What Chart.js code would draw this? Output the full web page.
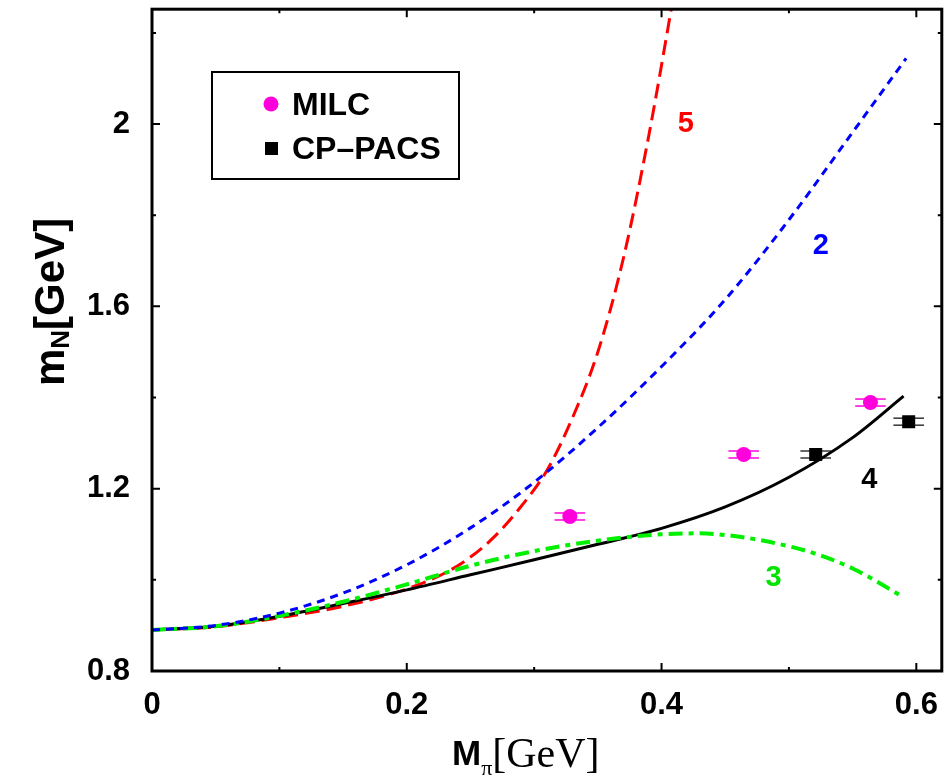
<!DOCTYPE html>
<html>
<head>
<meta charset="utf-8">
<script src="https://cdn.jsdelivr.net/npm/chart.js@4"></script>
<style>
	body { margin: 0; background: #fff; }
	#wrap { width: 951px; height: 776px; }
</style>
</head>
<body>
<div id="wrap"><canvas id="chart"></canvas></div>
<script>
/* global Chart */

// Curves
const xCurve2 = [0, 0.05, 0.1, 0.15, 0.2, 0.25, 0.3, 0.35, 0.4, 0.45, 0.5, 0.55, 0.592];
const yCurve2 = [0.890, 0.900, 0.927, 0.971, 1.033, 1.114, 1.214, 1.334, 1.468, 1.615, 1.790, 1.982, 2.144];

const xCurve3 = [0, 0.05, 0.1, 0.15, 0.2, 0.25, 0.3, 0.35, 0.4, 0.43, 0.46, 0.49, 0.52, 0.55, 0.59];
const yCurve3 = [0.890, 0.898, 0.921, 0.952, 0.990, 1.031, 1.063, 1.086, 1.100, 1.102, 1.095, 1.080, 1.058, 1.025, 0.962];

const xCurve4 = [0, 0.05, 0.1, 0.15, 0.2, 0.25, 0.3, 0.35, 0.4, 0.45, 0.5, 0.55, 0.59];
const yCurve4 = [0.890, 0.898, 0.920, 0.948, 0.978, 1.011, 1.044, 1.078, 1.113, 1.160, 1.225, 1.312, 1.403];

const xCurve5 = [0, 0.05, 0.1, 0.15, 0.2, 0.23, 0.25, 0.27, 0.29, 0.31, 0.33, 0.35, 0.37, 0.39, 0.41];
const yCurve5 = [0.890, 0.897, 0.917, 0.942, 0.980, 1.015, 1.050, 1.098, 1.162, 1.240, 1.355, 1.500, 1.705, 1.975, 2.290];

// Lattice points
const xMilc = [0.328, 0.4645, 0.564];
const yMilc = [1.139, 1.275, 1.389];
const errMilc = [0.012, 0.012, 0.012];

const xCpPacs = [0.521, 0.594];
const yCpPacs = [1.275, 1.347];
const errCpPacs = [0.012, 0.012];

// Axis ticks
const xTicks = [0, 0.1, 0.2, 0.3, 0.4, 0.5, 0.6];
const yTicks = [0.8, 1.0, 1.2, 1.4, 1.6, 1.8, 2.0, 2.2];

const toPoints = (xs, ys) => xs.map((x, i) => ({ x, y: ys[i] }));

const curve = (label, xs, ys, color, dash, width, order) => ({
	label,
	data: toPoints(xs, ys),
	showLine: true,
	borderColor: color,
	borderWidth: width,
	borderDash: dash,
	pointRadius: 0,
	cubicInterpolationMode: 'monotone',
	order
});

const sans = '"Liberation Sans", Arial, sans-serif';
const serif = '"Liberation Serif", "Times New Roman", serif';

// keep the plot box where the picture has it
const noPad = (s) => {
	s.paddingTop = 0;
	s.paddingBottom = 0;
	s.paddingLeft = 0;
	s.paddingRight = 0;
};

// Frame, inward ticks, error bars, legend, labels and titles
const decorations = {
	id: 'decorations',
	beforeDatasetsDraw(chart) {
		const { ctx, scales: { x, y } } = chart;
		const bars = [
			[xMilc, yMilc, errMilc, '#ff00dd'],
			[xCpPacs, yCpPacs, errCpPacs, '#333333']
		];
		ctx.save();
		ctx.lineWidth = 1.5;
		bars.forEach(([xs, ys, errs, color]) => {
			ctx.strokeStyle = color;
			xs.forEach((v, i) => {
				const x0 = x.getPixelForValue(v - errs[i]);
				const x1 = x.getPixelForValue(v + errs[i]);
				const py = y.getPixelForValue(ys[i]);
				[-3.5, 3.5].forEach((d) => {
					ctx.beginPath();
					ctx.moveTo(x0, py + d);
					ctx.lineTo(x1, py + d);
					ctx.stroke();
				});
			});
		});
		ctx.restore();
	},
	afterDraw(chart) {
		const { ctx, chartArea: a, scales: { x, y } } = chart;
		ctx.save();

		// frame
		ctx.strokeStyle = '#000';
		ctx.lineWidth = 3;
		ctx.strokeRect(a.left, a.top, a.right - a.left, a.bottom - a.top);

		// ticks on all four sides
		ctx.lineWidth = 2;
		ctx.beginPath();
		xTicks.forEach((v, i) => {
			const px = x.getPixelForValue(v);
			const len = i % 2 === 0 ? 8 : 4;
			ctx.moveTo(px, a.bottom);
			ctx.lineTo(px, a.bottom - len);
			ctx.moveTo(px, a.top);
			ctx.lineTo(px, a.top + len);
		});
		yTicks.forEach((v, i) => {
			const py = y.getPixelForValue(v);
			const len = i % 2 === 0 ? 8 : 4;
			ctx.moveTo(a.left, py);
			ctx.lineTo(a.left + len, py);
			ctx.moveTo(a.right, py);
			ctx.lineTo(a.right - len, py);
		});
		ctx.stroke();

		// curve labels
		ctx.font = 'bold 29px ' + sans;
		ctx.textAlign = 'center';
		ctx.textBaseline = 'middle';
		[['5', 0.419, 2.0, '#ff0000'], ['2', 0.525, 1.733, '#0000ff'], ['4', 0.563, 1.218, '#000000'], ['3', 0.488, 1.004, '#00e400']]
			.forEach(([t, vx, vy, c]) => {
				ctx.fillStyle = c;
				ctx.fillText(t, x.getPixelForValue(vx), y.getPixelForValue(vy));
			});

		// legend
		ctx.lineWidth = 2;
		ctx.strokeStyle = '#000';
		ctx.strokeRect(212, 72, 247, 107);
		ctx.fillStyle = '#ff00dd';
		ctx.beginPath();
		ctx.arc(271, 104, 7.5, 0, Math.PI * 2);
		ctx.fill();
		ctx.fillStyle = '#000';
		ctx.fillRect(265, 142, 13, 13);
		ctx.font = 'bold 32px ' + sans;
		ctx.textAlign = 'left';
		ctx.textBaseline = 'middle';
		ctx.fillText('MILC', 292, 106);
		ctx.fillText('CP\u2013PACS', 292, 150);

		// x title: M_pi[GeV]
		ctx.textBaseline = 'alphabetic';
		ctx.font = 'bold 35px ' + sans;
		ctx.fillText('M', 452, 765);
		let px = 452 + ctx.measureText('M').width;
		ctx.font = '22px ' + serif;
		ctx.fillText('\u03c0', px, 775);
		px += ctx.measureText('\u03c0').width;
		ctx.font = '42px ' + serif;
		ctx.fillText('[GeV]', px, 767);

		// y title: m_N[GeV]
		ctx.translate(64, 386);
		ctx.rotate(-Math.PI / 2);
		ctx.font = 'bold 42px ' + sans;
		ctx.fillText('m', 0, 0);
		const wm = ctx.measureText('m').width;
		ctx.font = 'bold 26px ' + sans;
		ctx.fillText('N', wm, 5);
		const wn = ctx.measureText('N').width;
		ctx.font = 'bold 42px ' + sans;
		ctx.fillText('[GeV]', wm + wn, 0);

		ctx.restore();
	}
};

const config = {
	type: 'scatter',
	data: {
		datasets: [
			{
				label: 'MILC',
				data: toPoints(xMilc, yMilc),
				pointStyle: 'circle',
				pointRadius: 7.5,
				backgroundColor: '#ff00dd',
				borderWidth: 0,
				order: 0
			},
			{
				label: 'CP-PACS',
				data: toPoints(xCpPacs, yCpPacs),
				pointStyle: 'rect',
				pointRadius: 9.2,
				backgroundColor: '#000',
				borderWidth: 0,
				order: 1
			},
			curve('2', xCurve2, yCurve2, '#0000ff', [8, 6], 3, 2),
			curve('3', xCurve3, yCurve3, '#00f000', [14, 6, 5, 6], 4, 3),
			curve('4', xCurve4, yCurve4, '#000000', [], 3, 4),
			curve('5', xCurve5, yCurve5, '#ff0000', [15, 7], 3, 5)
		]
	},
	options: {
		responsive: true,
		maintainAspectRatio: false,
		animation: false,
		layout: { padding: { top: 8, right: 5, left: 0, bottom: 0 } },
		plugins: {
			legend: { display: false },
			tooltip: { enabled: false }
		},
		scales: {
			x: {
				type: 'linear',
				min: 0,
				max: 0.62,
				grid: { display: false, drawTicks: false },
				border: { display: false },
				ticks: {
					stepSize: 0.2,
					includeBounds: false,
					maxRotation: 0,
					padding: 16,
					color: '#000',
					font: { family: sans, size: 31, weight: 'bold' },
					callback: (v) => String(Number(v.toFixed(1)))
				},
				afterFit: (s) => { s.height = 105; noPad(s); }
			},
			y: {
				type: 'linear',
				min: 0.8,
				max: 2.252,
				grid: { display: false, drawTicks: false },
				border: { display: false },
				ticks: {
					stepSize: 0.4,
					includeBounds: false,
					padding: 22,
					color: '#000',
					font: { family: sans, size: 31, weight: 'bold' },
					callback: (v) => String(Number(v.toFixed(1)))
				},
				afterFit: (s) => { s.width = 152; noPad(s); }
			}
		}
	},
	plugins: [decorations]
};

const canvas = document.getElementById('chart');
const graph = new Chart(canvas, config);
</script>
</body>
</html>
